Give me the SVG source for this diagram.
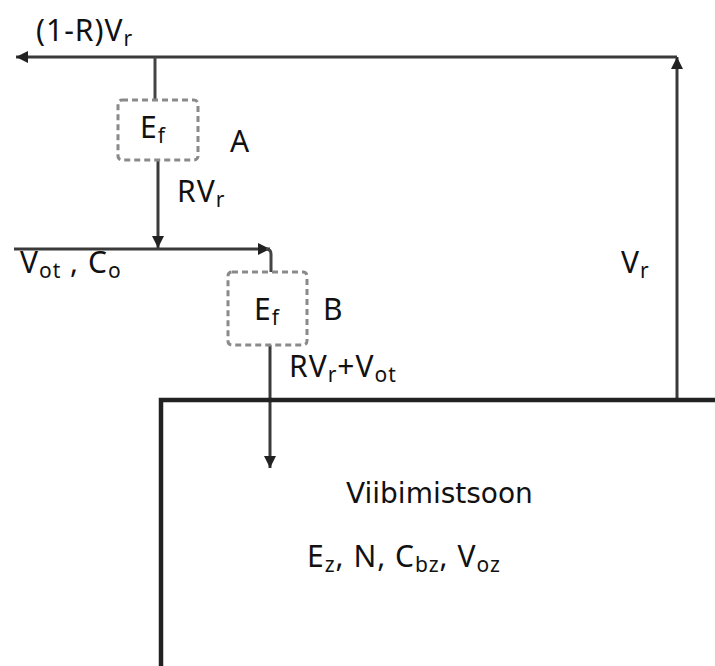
<svg xmlns="http://www.w3.org/2000/svg" width="715" height="666" viewBox="0 0 715 666">
<defs>
<marker id="ah" viewBox="0 0 10 10" refX="10" refY="5" markerWidth="12" markerHeight="12" markerUnits="userSpaceOnUse" orient="auto">
<path d="M0 0 L10 5 L0 10 Z" fill="#222"/>
</marker>
<style>
.flow{fill:none;stroke:#444;stroke-width:3}
.arr{fill:none;stroke:#3a3a3a;stroke-width:3;marker-end:url(#ah)}
.dash{fill:#fff;stroke:#8a8a8a;stroke-width:3;stroke-dasharray:6 4}
.wall{fill:none;stroke:#222;stroke-width:4.5}
.lbl{font-family:"Noto Sans","Open Sans",sans-serif;font-size:30px;letter-spacing:1px;fill:#111}
.sub{font-size:21px}
.zone{font-family:"DejaVu Sans",Verdana,sans-serif;font-size:28px;fill:#111}
</style>
</defs>
<g id="connectors">
<path class="arr" d="M677 57 H16"/>
<path class="arr" d="M677 400 V57"/>
<path class="flow" d="M155 57 V99"/>
<path class="arr" d="M158 160 V248"/>
<path class="arr" d="M14 249 H270"/>
<path class="flow" d="M266 249 Q271 249 271 254 V272"/>
<path class="arr" d="M270 345 V468"/>
</g>
<g id="zone">
<path class="wall" d="M161 666 V400 H715"/>
<text class="zone" x="346" y="503">Viibimistsoon</text>
<text class="lbl" x="307" y="567">E<tspan class="sub" dy="5">z</tspan><tspan dy="-5">, N, C</tspan><tspan class="sub" dy="5">bz</tspan><tspan dy="-5">, V</tspan><tspan class="sub" dy="5">oz</tspan></text>
</g>
<g id="filterA">
<rect class="dash" x="118" y="100" width="80" height="60" rx="4"/>
<text class="lbl" x="140" y="138">E<tspan class="sub" dy="5">f</tspan></text>
<text class="lbl" x="230" y="152">A</text>
</g>
<g id="filterB">
<rect class="dash" x="228" y="272" width="79" height="73" rx="4"/>
<text class="lbl" x="254" y="320">E<tspan class="sub" dy="5">f</tspan></text>
<text class="lbl" x="323" y="320">B</text>
</g>
<g id="labels">
<text class="lbl" x="36" y="41">(1-R)V<tspan class="sub" dy="5">r</tspan></text>
<text class="lbl" x="177" y="202">RV<tspan class="sub" dy="5">r</tspan></text>
<text class="lbl" x="20" y="273">V<tspan class="sub" dy="5">ot</tspan><tspan dy="-5"> , C</tspan><tspan class="sub" dy="5">o</tspan></text>
<text class="lbl" x="289" y="377">RV<tspan class="sub" dy="5">r</tspan><tspan dy="-5">+V</tspan><tspan class="sub" dy="5">ot</tspan></text>
<text class="lbl" x="621" y="273">V<tspan class="sub" dy="5">r</tspan></text>
</g>
</svg>
